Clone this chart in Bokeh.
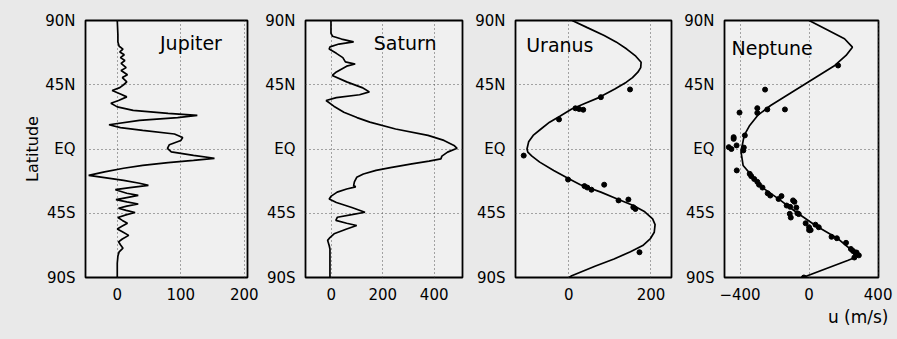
from bokeh.plotting import figure
from bokeh.layouts import row
from bokeh.models import FixedTicker, Label, Title, Range1d
from bokeh.embed import file_html
from bokeh.resources import INLINE

# ---------------- data (latitude in degrees, u in m/s) ----------------
jup_lat = [90, 80, 75, 72, 70, 68, 66, 64, 62, 60, 57, 55, 52, 50, 47, 45, 43, 41, 38.5, 36.5,
           34, 32, 29.5, 27, 25, 23.5, 22, 20, 17, 15, 13, 10.5, 8, 6, 3, 0.5, -2, -4.5, -6.5,
           -8, -9.5, -11.5, -13.5, -16, -18.5, -20, -22, -24, -25.5, -27, -28.5, -31, -32.5,
           -34, -35.5, -37, -38.5, -40, -41.5, -43, -44.5, -46, -48, -50, -52, -54, -56, -58,
           -60.5, -63, -65, -67, -69.5, -72, -75, -80, -90]
jup_u = [0, 1, 1, 3, 9, 4, 11, 5, 12, 6, 14, 6, 16, 8, 15, 10, 4, -8, 5, 15,
         2, -10, 0, 25, 80, 126, 95, 35, -13, 5, 40, 90, 103, 100, 82, 79, 85, 120, 153,
         120, 80, 40, 10, -20, -45, -20, 10, 35, 49, 20, -3, 15, 33,
         15, -2, 15, 33, 15, 2, 14, 28, 15, 1, 8, 16, 8, 0, 8,
         18, 8, 2, 5, 9, 3, 1, 0, 0]

sat_lat = [90, 81, 79, 77, 75, 73.5, 71.5, 70, 67, 64, 61, 59.5, 58, 54, 51.5, 47, 43, 40, 38,
           36, 34, 30, 25.8, 22, 18.8, 14, 9.5, 6, 2.5, 0.5, -2.2, -5, -6.9, -8.5, -10.4, -13,
           -15, -17.5, -19.8, -23, -25.6, -26.5, -28, -30.2, -33, -35, -37.5, -41, -44.3, -46,
           -47.8, -50, -52, -53.6, -56, -59.4, -62, -64, -67.6, -70, -90]
sat_u = [-1, -1, 5, 40, 87, 30, -5, -8, 20, 45, 55, 93, 60, 20, 4, 60, 120, 148, 110,
         20, -20, 10, 49, 100, 150, 250, 376, 438, 477, 489, 452, 430, 426, 380, 313, 230,
         174, 125, 99, 90, 87, 95, 60, 23, 0, -8, 20, 80, 131, 80,
         24, 18, 60, 99, 60, 11, -5, -14, -8, -5, -5]

ura_lat = [90, 85, 79.5, 75, 70, 65, 60.8, 57, 53.8, 50, 46.8, 42, 36, 32, 28, 23, 18.8, 14,
           9.5, 5, 0, -2.2, -5, -9.2, -15, -20.9, -25, -30.2, -35, -39.6, -44, -48.9, -53,
           -58.3, -63, -67.6, -72, -77, -82, -88.8, -90]
ura_u = [8, 45, 86, 115, 141, 163, 176, 175, 168, 155, 140, 112, 73, 40, 7, -22, -47, -68,
         -87, -98, -102, -100, -90, -71, -37, 0, 28, 78, 118, 157, 185, 204, 210,
         208, 198, 180, 150, 110, 65, 7, 0]
ura_obs_lat = [41.7, 36.3, 28.5, 28, 27.5, 20.7, -4.6, -21.4, -26, -27, -28.5, -25, -36,
               -35.4, -40.8, -42, -72.3]
ura_obs_u = [149, 78, 16, 25, 35, -24, -110, -2, 38, 45, 55, 86, 121,
             145, 157, 162, 172]

nep_lat = [90, 84.2, 77.2, 71.3, 65.5, 58.5, 51.5, 44.5, 37.5, 30.5, 23.5, 16.5, 9.5, 0.1,
           -2.2, -11.6, -20.9, -27.9, -34.9, -44.3, -53.6, -62.9, -72.3, -75.8, -78.1, -84, -90]
nep_u = [0, 93, 205, 251, 214, 149, 56, -37, -130, -223, -298, -344, -376, -391,
         -394, -382, -316, -260, -177, -74, 37, 168, 261, 270, 223, 93, -37]
nep_obs_lat = [58.5, 41.6, 25.5, 28.6, 25.3, 27.7, 27.7, 8.3, 7.1, 1.3, 0, 2.5, 1, -1, 9.5,
               -15, -17.4, -19, -21, -23, -25, -27, -31, -32.6, -33, -35, -36, -37, -39.6,
               -40.5, -41, -45.4, -48, -45, -45.6, -52, -54.8, -56.8, -53, -54.8, -56.8, -61.5,
               -62.5, -65.7, -70, -71.5, -73, -74.5, -76, -72.5, -90]
nep_obs_u = [168, -255, -403, -300, -300, -242, -140, -437, -437, -465, -450, -420, -378, -381, -372,
             -419, -344, -335, -318, -300, -290, -270, -240, -225, -160, -177, -93, -85, -130,
             -110, -74, -112, -106, -68, -60, -20, 0, 0, 37, 56, 9, 130,
             161, 214, 242, 255, 270, 288, 262, 275, -30]

y_ticks = [-90, -45, 0, 45, 90]
y_labels = {-90: "90S", -45: "45S", 0: "EQ", 45: "45N", 90: "90N"}

panels = [
    dict(name="Jupiter", lat=jup_lat, u=jup_u, xr=(-50, 205), xt=[0, 100, 200],
         w=262, l=85, r=15, tx=116, ty=74.5, obs=None),
    dict(name="Saturn", lat=sat_lat, u=sat_u, xr=(-100, 510), xt=[0, 200, 400],
         w=210, l=39, r=10, tx=287, ty=74.5, obs=None),
    dict(name="Uranus", lat=ura_lat, u=ura_u, xr=(-130, 250), xt=[0, 200],
         w=209, l=38, r=10, tx=-22, ty=73, obs=(ura_obs_lat, ura_obs_u)),
    dict(name="Neptune", lat=nep_lat, u=nep_u, xr=(-490, 402), xt=[-400, 0, 400],
         w=216, l=38, r=19, tx=-214, ty=71, obs=(nep_obs_lat, nep_obs_u)),
]

FONT = "DejaVu Sans"
BG = "#e9e9e9"
figs = []
for i, pd_ in enumerate(panels):
    p = figure(width=pd_["w"], height=339, output_backend="svg", toolbar_location=None,
               x_range=Range1d(*pd_["xr"]), y_range=Range1d(-90, 90),
               min_border_left=pd_["l"], min_border_right=pd_["r"],
               min_border_top=20, min_border_bottom=62)
    p.background_fill_color = "#f0f0f0"
    p.border_fill_color = BG
    p.outline_line_color = "black"
    p.outline_line_width = 1.8
    for ax in (p.xaxis[0], p.yaxis[0]):
        ax.axis_line_color = None
        ax.major_tick_line_color = None
        ax.minor_tick_line_color = None
        ax.major_label_text_font = FONT
        ax.major_label_text_font_size = "15px"
        ax.major_label_text_color = "black"
    p.xaxis.ticker = FixedTicker(ticks=pd_["xt"])
    p.yaxis.ticker = FixedTicker(ticks=y_ticks)
    p.yaxis.major_label_overrides = y_labels
    p.xaxis.major_label_standoff = 4
    p.yaxis.major_label_standoff = 4
    for g in (p.xgrid[0], p.ygrid[0]):
        g.grid_line_color = "#555555"
        g.grid_line_dash = "1 3"
        g.grid_line_width = 1
    if i == 0:
        p.yaxis.axis_label = "Latitude"
        p.yaxis.axis_label_text_font = FONT
        p.yaxis.axis_label_text_font_size = "16px"
        p.yaxis.axis_label_text_font_style = "normal"
        p.yaxis.axis_label_text_color = "black"
        p.yaxis.axis_label_standoff = 0
    p.line(pd_["u"], pd_["lat"], line_color="black", line_width=1.7)
    if pd_["obs"] is not None:
        p.scatter(pd_["obs"][1], pd_["obs"][0], size=5, color="black")
    p.add_layout(Label(x=pd_["tx"], y=pd_["ty"], text=pd_["name"], text_align="center",
                       text_baseline="middle", text_font=FONT, text_font_size="19px",
                       text_color="black"))
    if i == 3:
        p.add_layout(Title(text="u (m/s)", align="right", text_font=FONT,
                           text_font_size="17px", text_font_style="normal", offset=-10,
                           text_color="black", standoff=4), "below")
    figs.append(p)

layout = row(*figs, styles={"background-color": BG})
open("out.html", "w").write(file_html(layout, INLINE))
